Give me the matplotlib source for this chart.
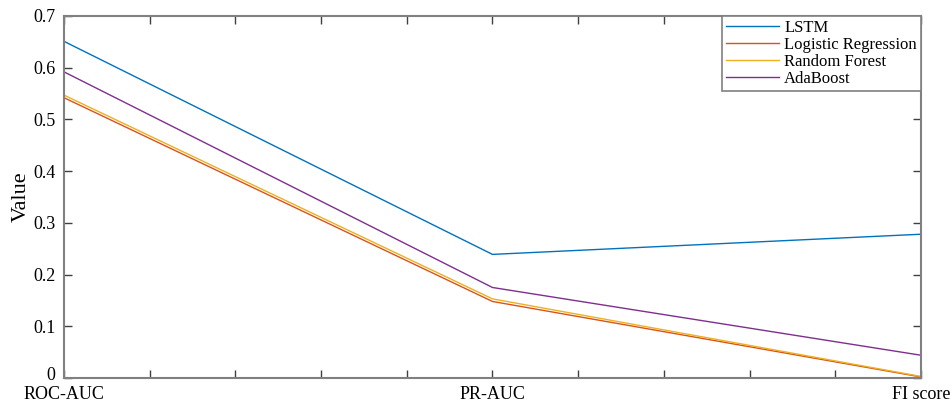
import numpy as np
import matplotlib.pyplot as plt
import matplotlib.transforms as mtransforms

plt.rcParams.update({
    "font.family": "serif",
    "font.serif": ["Liberation Serif", "DejaVu Serif"],
    "font.size": 13,
})

# Data
metrics = ["ROC-AUC", "PR-AUC", "FI score"]
lstm = [0.651, 0.239, 0.278]
logreg = [0.542, 0.148, 0.002]
rforest = [0.547, 0.153, 0.003]
adaboost = [0.592, 0.175, 0.044]

series = [
    ("LSTM", lstm, "#0072BD"),
    ("Logistic Regression", logreg, "#D95319"),
    ("Random Forest", rforest, "#EDB120"),
    ("AdaBoost", adaboost, "#7E2F8E"),
]

fig = plt.figure(figsize=(9.52, 4.05), dpi=100)
ax = fig.add_axes([0.0672, 0.0667, 0.9002, 0.8938])

x = np.arange(len(metrics))
for name, vals, col in series:
    ax.plot(x, vals, color=col, lw=1.0, label=name)

ax.set_xlim(0, 2)
ax.set_ylim(0, 0.7)
ax.set_xticks(np.arange(0, 2.01, 0.2))
ax.set_xticklabels(["ROC-AUC", "", "", "", "", "PR-AUC", "", "", "", "", "FI score"])
ax.set_yticks(np.arange(0, 0.71, 0.1))
ax.set_yticklabels(["0", "0.1", "0.2", "0.3", "0.4", "0.5", "0.6", "0.7"])
ax.set_ylabel("Value", fontsize=16, labelpad=2)

for s in ax.spines.values():
    s.set_color("#808080")
    s.set_linewidth(1.5)
ax.tick_params(direction="in", top=True, right=True, color="#404040",
               length=6, width=1, labelsize=13)
ax.tick_params(axis="y", pad=6)
ax.tick_params(axis="x", pad=6)

# nudge the "0" label up a little so it clears "ROC-AUC"
lbl0 = ax.get_yticklabels()[0]
lbl0.set_transform(lbl0.get_transform() +
                   mtransforms.ScaledTranslation(0, 3 / 72, fig.dpi_scale_trans))

leg = ax.legend(loc="upper right", fontsize=12, frameon=True, fancybox=False,
                framealpha=1, edgecolor="#808080", handlelength=3.2,
                borderpad=0.25, labelspacing=0.05, handletextpad=0.3,
                borderaxespad=0.0)
leg.get_frame().set_linewidth(1.2)

fig.savefig("out.png", dpi=100)
